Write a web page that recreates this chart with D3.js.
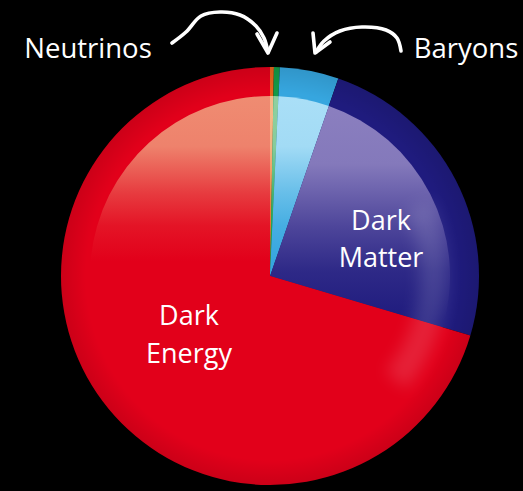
<!DOCTYPE html>
<html>
<head>
<meta charset="utf-8">
<script src="https://cdn.jsdelivr.net/npm/d3@7"></script>
<style>
  html, body { margin: 0; padding: 0; background: #000; }
  svg { display: block; }
</style>
</head>
<body>
<svg id="chart" width="523" height="491"></svg>
<script>
// Composition of the universe (percent of total energy density)
const categories = ["Neutrinos", "Other", "Baryons", "Dark Matter", "Dark Energy"];
const values = [0.3, 0.45, 4.55, 24.3, 70.4];
const colors = ["#e8641e", "#139a48", "#36a6df", "#1f1b7e", "#e2001a"];
const highlights = ["#f7b98a", "#8fd0a0", "#aadff7", "#8c80c0", "#ef8c72"];
const glossReach = [1, 1, 1, 1.35, 1];

const sliceLabels = [
  { name: "Dark Matter", lines: ["Dark", "Matter"], x: 381, y: [230, 267] },
  { name: "Dark Energy", lines: ["Dark", "Energy"], x: 189, y: [325, 363] }
];
const calloutLabels = [
  { name: "Neutrinos", x: 88, y: 58 },
  { name: "Baryons", x: 466, y: 58 }
];

const W = 523, H = 491;
const cx = 270, cy = 276, R = 209, rInner = 180;

const svg = d3.select("#chart");
svg.append("rect").attr("width", W).attr("height", H).attr("fill", "#000");

const defs = svg.append("defs");

// slight darkening towards the rim
const rim = defs.append("radialGradient").attr("id", "rim");
rim.append("stop").attr("offset", 0.88).attr("stop-color", "#000").attr("stop-opacity", 0);
rim.append("stop").attr("offset", 1).attr("stop-color", "#000").attr("stop-opacity", 0.1);

defs.append("filter").attr("id", "soft")
  .attr("x", "-30%").attr("y", "-30%").attr("width", "160%").attr("height", "160%")
  .append("feGaussianBlur").attr("stdDeviation", 8);

const g = svg.append("g").attr("transform", `translate(${cx},${cy})`);

const pie = d3.pie().sort(null).value(d => d.value).startAngle(0).endAngle(2 * Math.PI);
const data = categories.map((c, i) => ({
  category: c, value: values[i], color: colors[i], light: highlights[i], reach: glossReach[i], idx: i
}));
const arcs = pie(data);

const arc = d3.arc().innerRadius(0).outerRadius(R);
const innerArc = d3.arc().innerRadius(0).outerRadius(rInner);

// vertical gloss gradient for each slice's inner disc
const profile = [[0, 1], [0.14, 0.93], [0.27, 0.42], [0.36, 0.14], [0.46, 0]];
data.forEach(d => {
  const grad = defs.append("linearGradient").attr("id", "gl" + d.idx)
    .attr("gradientUnits", "userSpaceOnUse")
    .attr("x1", 0).attr("y1", -rInner).attr("x2", 0).attr("y2", rInner);
  const mix = d3.interpolateRgb(d.color, d.light);
  profile.forEach(([o, t]) => {
    grad.append("stop").attr("offset", Math.min(1, o * d.reach)).attr("stop-color", mix(t));
  });
});

g.selectAll("path.slice")
  .data(arcs)
  .join("path")
  .attr("class", "slice")
  .attr("d", arc)
  .attr("fill", d => d.data.color);

// rim shading
g.append("circle").attr("r", R).attr("fill", "url(#rim)");

g.selectAll("path.inner")
  .data(arcs)
  .join("path")
  .attr("class", "inner")
  .attr("d", innerArc)
  .attr("fill", d => `url(#gl${d.data.idx})`);

// soft sheen along the lower-right edge of the inner disc
const sheen = d3.arc().innerRadius(150).outerRadius(rInner - 3)
  .startAngle(Math.PI * 0.36).endAngle(Math.PI * 0.72);
g.append("path").attr("d", sheen()).attr("fill", "#fff").attr("opacity", 0.13)
  .attr("filter", "url(#soft)");

// labels inside slices
const font = "'Open Sans', Lato, sans-serif";
sliceLabels.forEach(l => {
  l.lines.forEach((t, i) => {
    svg.append("text")
      .attr("x", l.x).attr("y", l.y[i])
      .attr("text-anchor", "middle")
      .attr("font-family", font)
      .attr("font-size", 27)
      .attr("fill", "#fff")
      .text(t);
  });
});

// callout labels
calloutLabels.forEach(l => {
  svg.append("text")
    .attr("x", l.x).attr("y", l.y)
    .attr("text-anchor", "middle")
    .attr("font-family", font)
    .attr("font-size", 27.5)
    .attr("fill", "#fff")
    .text(l.name);
});

// hand-drawn arrows pointing at the thin slices
const line = d3.line().curve(d3.curveCatmullRom.alpha(0.5));
const arrowStyle = sel => sel.attr("fill", "none").attr("stroke", "#fff")
  .attr("stroke-width", 3.6).attr("stroke-linecap", "round").attr("stroke-linejoin", "round");

svg.append("path").call(arrowStyle)
  .attr("d", line([[172, 43], [186, 32], [201, 16], [220, 12], [240, 15], [256, 26], [264, 38], [268, 52]]));
svg.append("path").call(arrowStyle)
  .attr("d", d3.line()([[257, 34], [268, 53], [277, 33]]));

svg.append("path").call(arrowStyle)
  .attr("d", line([[401, 51], [397, 38], [386, 30], [362, 27], [340, 31], [324, 41], [316, 52]]));
svg.append("path").call(arrowStyle)
  .attr("d", d3.line()([[313, 33], [315, 53], [330, 42]]));
</script>
</body>
</html>
